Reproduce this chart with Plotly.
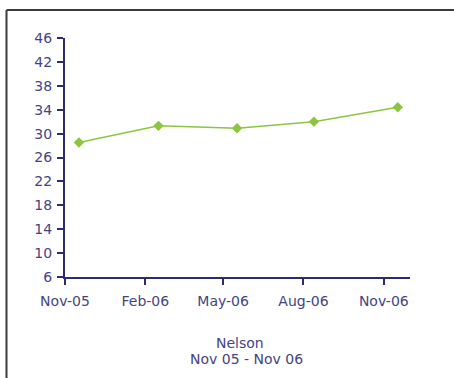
import plotly.graph_objects as go

# Survey dates and readings for Nelson
dates = ["2005-11-17", "2006-02-16", "2006-05-17", "2006-08-13", "2006-11-17"]
values = [28.5, 31.3, 30.9, 32.0, 34.4]

# Axis ticks
x_tick_dates = ["2005-11-01", "2006-02-01", "2006-05-01", "2006-08-01", "2006-11-01"]
x_tick_labels = ["Nov-05", "Feb-06", "May-06", "Aug-06", "Nov-06"]
y_ticks = [6, 10, 14, 18, 22, 26, 30, 34, 38, 42, 46]

title_lines = ["Nelson", "Nov 05 - Nov 06"]

W, H = 454, 378
ML, MR, MT, MB = 65, 44, 38, 101
PW, PH = W - ML - MR, H - MT - MB

NAVY = "#2c2a70"
TEXT = "#454383"
GREEN = "#8cc63f"
FONT = dict(family="DejaVu Sans", size=14, color=TEXT)


def px_x(px):
    return (px - ML) / PW


def px_y(py):
    return (H - MB - py) / PH


fig = go.Figure()
fig.add_trace(go.Scatter(
    x=dates, y=values, mode="lines+markers",
    line=dict(color=GREEN, width=1.5),
    marker=dict(symbol="diamond", size=8, color=GREEN),
    showlegend=False, hoverinfo="skip",
))

fig.update_layout(
    width=W, height=H,
    margin=dict(l=ML, r=MR, t=MT, b=MB, pad=0),
    paper_bgcolor="white", plot_bgcolor="white",
    font=FONT,
    xaxis=dict(
        type="date", range=["2005-11-01", "2006-12-01"],
        tickvals=x_tick_dates, ticktext=x_tick_labels,
        ticks="outside", ticklen=6, tickwidth=2, tickcolor=NAVY,
        showline=True, linecolor=NAVY, linewidth=2,
        showgrid=False, zeroline=False, tickfont=FONT,
        ticklabelstandoff=4,
    ),
    yaxis=dict(
        range=[6, 46], tickvals=y_ticks,
        ticks="outside", ticklen=6, tickwidth=2, tickcolor=NAVY,
        showline=True, linecolor=NAVY, linewidth=2,
        showgrid=False, zeroline=False, tickfont=FONT,
        ticklabelstandoff=2,
    ),
)

# Two-line caption beneath the axis
fig.add_annotation(text=title_lines[0], xref="paper", yref="paper",
                   x=px_x(240), y=px_y(343), showarrow=False, font=FONT,
                   xanchor="center", yanchor="middle")
fig.add_annotation(text=title_lines[1], xref="paper", yref="paper",
                   x=px_x(246.5), y=px_y(359), showarrow=False, font=FONT,
                   xanchor="center", yanchor="middle")

# Outer frame: top and left edges
frame = dict(color="#3a3a3a", width=2)
fig.add_shape(type="line", xref="paper", yref="paper",
              x0=px_x(6.5), x1=px_x(W + 5), y0=px_y(10), y1=px_y(10), line=frame)
fig.add_shape(type="line", xref="paper", yref="paper",
              x0=px_x(6.5), x1=px_x(6.5), y0=px_y(10), y1=px_y(H + 5), line=frame)

fig.write_html("out.html")
